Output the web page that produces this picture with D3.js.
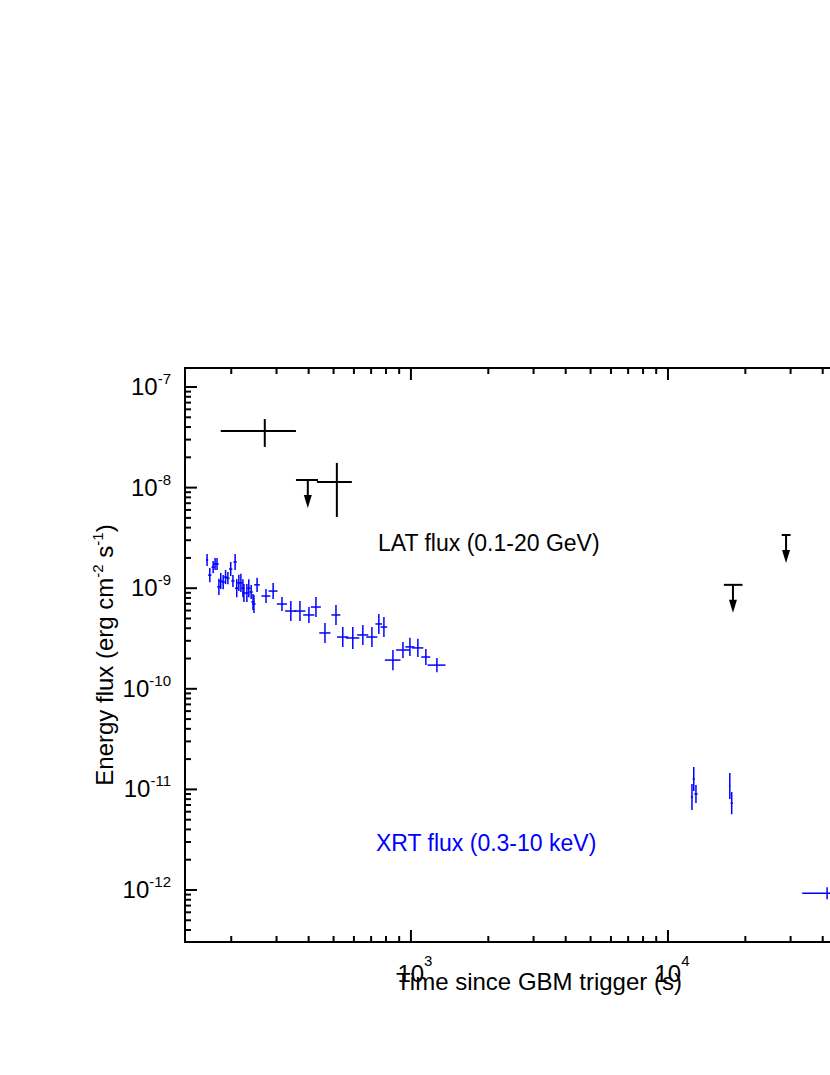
<!DOCTYPE html>
<html lang="en">
<head>
<meta charset="UTF-8">
<title>LAT / XRT flux</title>
<style>
  body { margin: 0; background: #fff; }
  svg text { font-family: Arial, 'Liberation Sans', sans-serif; }
</style>
</head>
<body>
<svg id="chart" width="830" height="1075"></svg>
<script src="https://d3js.org/d3.v7.min.js"></script>
<script>
// ---- data ----
// LAT detections: time, time range, flux, flux range
const latT     = [270, 515];
const latTLo   = [182, 431];
const latTHi   = [357, 589];
const latF     = [3.66e-8, 1.14e-8];
const latFLo   = [2.54e-8, 5.1e-9];
const latFHi   = [4.8e-8, 1.76e-8];
// LAT upper limits
const ulT   = [397, 17900, 28800];
const ulTLo = [357, 16500, 27700];
const ulTHi = [435, 19500, 30000];
const ulF   = [1.19e-8, 1.08e-9, 3.38e-9];

// XRT flux points
const xrtT = [161,165,170,173,176,179,182,186,190,194,199,203,207,210,214,218,222,224,230,234,239,243,245,252,
              273,291,315,341,370,401,427,463,511,543,594,650,705,750,785,851,931,991,1064,1143,1262,
              12400,12600,12850,17400,17700,41600];
const xrtF = [1.91e-9,1.35e-9,1.62e-9,1.74e-9,1.74e-9,1.03e-9,1.18e-9,1.15e-9,1.29e-9,1.26e-9,1.55e-9,1.18e-9,1.82e-9,1.00e-9,1.13e-9,1.13e-9,1.00e-9,8.95e-10,8.95e-10,1.00e-9,9.16e-10,7.29e-10,6.96e-10,1.08e-9,
              8.36e-10,9.37e-10,6.96e-10,5.93e-10,5.93e-10,5.42e-10,6.50e-10,3.59e-10,5.42e-10,3.27e-10,3.20e-10,3.43e-10,3.27e-10,4.41e-10,4.11e-10,1.93e-10,2.43e-10,2.61e-10,2.55e-10,2.07e-10,1.72e-10,
              8.4e-12,1.27e-11,9.0e-12,1.08e-11,7.3e-12,9.3e-13];
// half-widths: time error (fraction of t), flux error (dex)
const xrtTErr = [0.01,0.015,0.015,0.015,0.015,0.015,0.015,0.015,0.015,0.015,0.015,0.015,0.015,0.015,0.015,0.015,0.015,0.015,0.015,0.015,0.015,0.015,0.015,0.025,
                 0.04,0.04,0.045,0.05,0.05,0.05,0.045,0.05,0.04,0.05,0.06,0.05,0.05,0.03,0.03,0.07,0.06,0.04,0.05,0.04,0.08,
                 0.01,0.01,0.015,0.005,0.01,0.2];
const xrtFErr = [0.06,0.07,0.06,0.06,0.06,0.08,0.08,0.07,0.07,0.06,0.07,0.06,0.08,0.09,0.08,0.09,0.09,0.09,0.09,0.09,0.07,0.08,0.09,0.07,
                 0.07,0.08,0.07,0.1,0.1,0.08,0.1,0.1,0.1,0.1,0.11,0.1,0.1,0.1,0.1,0.1,0.08,0.09,0.09,0.08,0.07,
                 0.13,0.12,0.09,0.13,0.11,0.06];

// ---- layout ----
const svg = d3.select("#chart");
const L = 185, T = 368, B = 942, R = 925;

const x = d3.scaleLog().domain([10 ** 2.121, 10 ** (3 + (R - 411) / 257)]).range([L, R]);
const y = d3.scaleLog().domain([10 ** -12.517, 10 ** -6.811]).range([B, T]);

const black = "#000", blue = "#0000ff";

// ---- frame & ticks ----
svg.append("rect").attr("x", L).attr("y", T).attr("width", R - L).attr("height", B - T)
  .attr("fill", "none").attr("stroke", black).attr("stroke-width", 2);

const xTicks = [];
for (let e = 2; e <= 4; e++) for (let m = 1; m <= 9; m++) {
  const v = m * 10 ** e;
  if (v >= x.domain()[0] && v <= x.domain()[1]) xTicks.push({ v, major: m === 1 });
}
const yTicks = [];
for (let e = -13; e <= -7; e++) for (let m = 1; m <= 9; m++) {
  const v = m * 10 ** e;
  if (v >= y.domain()[0] && v <= y.domain()[1]) yTicks.push({ v, major: m === 1 });
}

const ticks = svg.append("g").attr("stroke", black).attr("stroke-width", 2);
xTicks.forEach(d => {
  const len = d.major ? 12 : 6, px = x(d.v);
  ticks.append("line").attr("x1", px).attr("x2", px).attr("y1", B).attr("y2", B - len);
  ticks.append("line").attr("x1", px).attr("x2", px).attr("y1", T).attr("y2", T + len);
});
yTicks.forEach(d => {
  const len = d.major ? 12 : 6, py = y(d.v);
  ticks.append("line").attr("x1", L).attr("x2", L + len).attr("y1", py).attr("y2", py);
  ticks.append("line").attr("x1", R).attr("x2", R - len).attr("y1", py).attr("y2", py);
});

// tick labels
xTicks.filter(d => d.major && d.v >= 1000).forEach(d => {
  const t = svg.append("text").attr("x", x(d.v) + 4).attr("y", B + 22)
    .attr("text-anchor", "middle").attr("dominant-baseline", "hanging").attr("font-size", 24);
  t.append("tspan").text("10");
  t.append("tspan").attr("dy", -9).attr("font-size", 15).text(Math.round(Math.log10(d.v)));
});
yTicks.filter(d => d.major).forEach(d => {
  const t = svg.append("text").attr("x", L - 14).attr("y", y(d.v) + 8)
    .attr("text-anchor", "end").attr("font-size", 24);
  t.append("tspan").text("10");
  t.append("tspan").attr("dy", -11).attr("font-size", 15).text(Math.round(Math.log10(d.v)));
});

// axis titles
svg.append("text").attr("x", 539).attr("y", 990).attr("text-anchor", "middle")
  .attr("font-size", 24).text("Time since GBM trigger (s)");
const yt = svg.append("text").attr("transform", "translate(113,655) rotate(-90)")
  .attr("text-anchor", "middle").attr("font-size", 24);
yt.append("tspan").text("Energy flux (erg cm");
yt.append("tspan").attr("dy", -10).attr("font-size", 15).text("-2");
yt.append("tspan").attr("dy", 10).text(" s");
yt.append("tspan").attr("dy", -10).attr("font-size", 15).text("-1");
yt.append("tspan").attr("dy", 10).text(")");

// ---- data marks ----
const plot = svg.append("g");

// XRT
xrtT.forEach((t, i) => {
  const f = xrtF[i], g = plot.append("g").attr("stroke", blue).attr("stroke-width", 1.5);
  g.append("line").attr("x1", x(t * (1 - xrtTErr[i]))).attr("x2", x(t * (1 + xrtTErr[i])))
    .attr("y1", y(f)).attr("y2", y(f));
  g.append("line").attr("x1", x(t)).attr("x2", x(t))
    .attr("y1", y(f * 10 ** xrtFErr[i])).attr("y2", y(f / 10 ** xrtFErr[i]));
});

// LAT detections
latT.forEach((t, i) => {
  const g = plot.append("g").attr("stroke", black).attr("stroke-width", 2);
  g.append("line").attr("x1", x(latTLo[i])).attr("x2", x(latTHi[i])).attr("y1", y(latF[i])).attr("y2", y(latF[i]));
  g.append("line").attr("x1", x(t)).attr("x2", x(t)).attr("y1", y(latFHi[i])).attr("y2", y(latFLo[i]));
});

// LAT upper limits
ulT.forEach((t, i) => {
  const px = x(t), py = y(ulF[i]);
  const g = plot.append("g").attr("stroke", black).attr("stroke-width", 2);
  g.append("line").attr("x1", x(ulTLo[i])).attr("x2", x(ulTHi[i])).attr("y1", py).attr("y2", py);
  g.append("line").attr("x1", px).attr("x2", px).attr("y1", py).attr("y2", py + 18);
  plot.append("path").attr("d", `M${px - 4},${py + 15} L${px + 4},${py + 15} L${px},${py + 28} Z`)
    .attr("fill", black);
});

// labels
svg.append("text").attr("x", 378).attr("y", 551).attr("font-size", 23).attr("fill", black)
  .text("LAT flux (0.1-20 GeV)");
svg.append("text").attr("x", 376).attr("y", 851).attr("font-size", 23).attr("fill", blue)
  .text("XRT flux (0.3-10 keV)");
</script>
</body>
</html>
